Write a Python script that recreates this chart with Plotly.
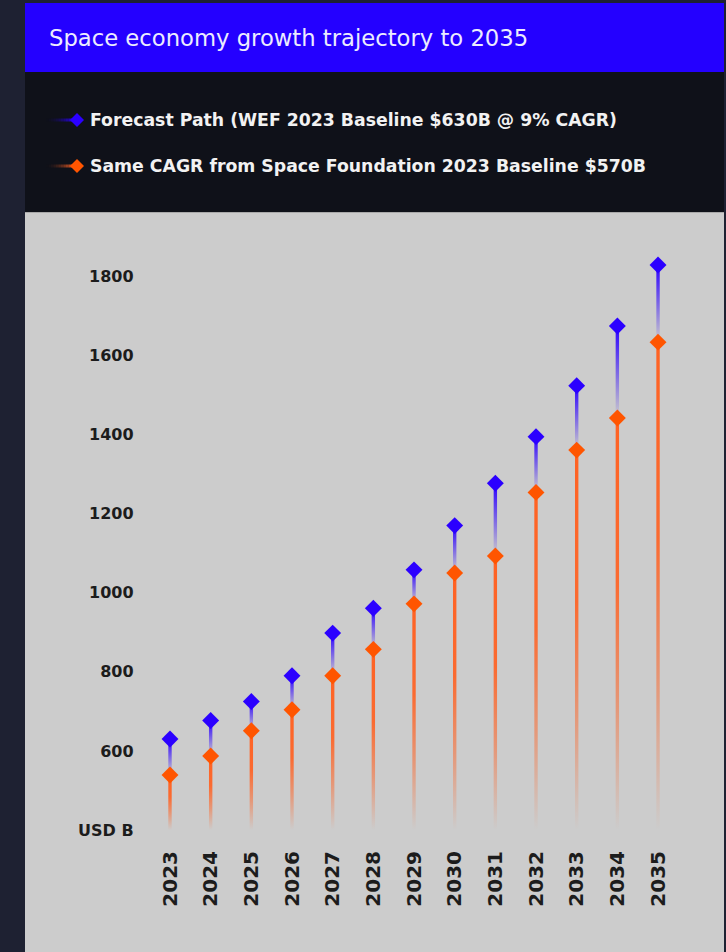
import plotly.graph_objects as go

# ---------------- data ----------------
years = [2023, 2024, 2025, 2026, 2027, 2028, 2029, 2030, 2031, 2032, 2033, 2034, 2035]
wef_path = [630, 677, 725, 790, 898, 961, 1058, 1170, 1277, 1395, 1524, 1675, 1829]
sf_path = [539, 587, 651, 704, 790, 857, 972, 1050, 1093, 1254, 1361, 1442, 1634]
series_names = [
    "Forecast Path (WEF 2023 Baseline $630B @ 9% CAGR)",
    "Same CAGR from Space Foundation 2023 Baseline $570B",
]
title_text = "Space economy growth trajectory to 2035"
y_tick_vals = [400, 600, 800, 1000, 1200, 1400, 1600, 1800]
y_tick_text = ["USD B", "600", "800", "1000", "1200", "1400", "1600", "1800"]
base_value = 400

# ---------------- styling ----------------
W, H = 726, 952
BLUE = "#2b00ff"
ORANGE = "#ff5500"
BLUE_RGB = "43,0,255"
ORANGE_RGB = "255,98,35"
DARK_PAGE = "#1e2132"
DARK_PANEL = "#0f1119"
GREY = "#cccccc"


def fx(px):
    return px / W


def fy(py):
    return 1 - py / H


X_RANGE = [2022.4, 2036.0]
Y_RANGE = [400, 1900]
PLOT_L, PLOT_R, PLOT_T, PLOT_B = 145.6, 698.7, 237, 830
px_per_year = (PLOT_R - PLOT_L) / (X_RANGE[1] - X_RANGE[0])
stem_half = 1.7 / px_per_year

fig = go.Figure()

# stems for orange series (from base up to orange diamond)
for yr, v in zip(years, sf_path):
    fig.add_trace(go.Scatter(
        x=[yr - stem_half, yr + stem_half, yr + stem_half, yr - stem_half, yr - stem_half],
        y=[base_value, base_value, v, v, base_value],
        mode="lines", line=dict(width=0, color="rgba(0,0,0,0)"),
        fill="toself",
        fillgradient=dict(
            type="vertical",
            colorscale=[
                [0, f"rgba({ORANGE_RGB},0)"],
                [0.3, f"rgba({ORANGE_RGB},0.5)"],
                [0.6, f"rgba({ORANGE_RGB},0.92)"],
                [1, f"rgba({ORANGE_RGB},1)"],
            ],
        ),
        hoverinfo="skip", showlegend=False,
    ))

# stems for blue series (from orange diamond up to blue diamond)
for yr, lo, hi in zip(years, sf_path, wef_path):
    fig.add_trace(go.Scatter(
        x=[yr - stem_half, yr + stem_half, yr + stem_half, yr - stem_half, yr - stem_half],
        y=[lo, lo, hi, hi, lo],
        mode="lines", line=dict(width=0, color="rgba(0,0,0,0)"),
        fill="toself",
        fillgradient=dict(
            type="vertical",
            colorscale=[
                [0, f"rgba({BLUE_RGB},0)"],
                [0.5, f"rgba({BLUE_RGB},0.5)"],
                [1, f"rgba({BLUE_RGB},1)"],
            ],
        ),
        hoverinfo="skip", showlegend=False,
    ))

# diamonds
fig.add_trace(go.Scatter(
    x=years, y=sf_path, mode="markers", name=series_names[1],
    marker=dict(symbol="diamond", size=13, color=ORANGE, line=dict(width=0)),
    showlegend=False,
))
fig.add_trace(go.Scatter(
    x=years, y=wef_path, mode="markers", name=series_names[0],
    marker=dict(symbol="diamond", size=13, color=BLUE, line=dict(width=0)),
    showlegend=False,
))

shapes = []
# grey panel (extends past the bottom edge so it always reaches it)
shapes.append(dict(type="rect", xref="paper", yref="paper",
                   x0=fx(25), x1=fx(724), y0=fy(1000), y1=fy(212),
                   fillcolor=GREY, line=dict(width=0), layer="below"))
shapes.append(dict(type="line", xref="paper", yref="paper",
                   x0=fx(25), x1=fx(724), y0=fy(212.5), y1=fy(212.5),
                   line=dict(color="#a9a9a9", width=1), layer="below"))
# dark legend panel
shapes.append(dict(type="rect", xref="paper", yref="paper",
                   x0=fx(25), x1=fx(724), y0=fy(212), y1=fy(72),
                   fillcolor=DARK_PANEL, line=dict(width=0), layer="below"))
# blue title bar
shapes.append(dict(type="rect", xref="paper", yref="paper",
                   x0=fx(25), x1=fx(724), y0=fy(72), y1=fy(3),
                   fillcolor="#2400ff", line=dict(width=0), layer="below"))

# legend symbols: gradient line + diamond
annotations = []
legend_rows = [(120, BLUE_RGB, BLUE, series_names[0]), (166, ORANGE_RGB, ORANGE, series_names[1])]
for py, rgb, col, name in legend_rows:
    n = 12
    x_start, x_end = 46, 76
    seg = (x_end - x_start) / n
    for i in range(n):
        a = (i + 1) / n
        shapes.append(dict(type="line", xref="paper", yref="paper",
                           x0=fx(x_start + i * seg), x1=fx(x_start + (i + 1) * seg),
                           y0=fy(py), y1=fy(py),
                           line=dict(color=f"rgba({rgb},{a * a:.3f})", width=3)))
    cx, r = 77, 7
    path = (f"M {fx(cx - r)} {fy(py)} L {fx(cx)} {fy(py - r)} "
            f"L {fx(cx + r)} {fy(py)} L {fx(cx)} {fy(py + r)} Z")
    shapes.append(dict(type="path", xref="paper", yref="paper", path=path,
                       fillcolor=col, line=dict(width=0)))
    annotations.append(dict(xref="paper", yref="paper", x=fx(88), y=fy(py),
                            xanchor="left", yanchor="middle", showarrow=False,
                            text=name,
                            font=dict(family="DejaVu Sans", size=17.3, color="#f2f2f2",
                                      weight="bold")))

annotations.append(dict(xref="paper", yref="paper", x=fx(47), y=fy(38),
                        xanchor="left", yanchor="middle", showarrow=False,
                        text=title_text,
                        font=dict(family="DejaVu Sans", size=22.7, color="#ececff")))

fig.update_layout(
    width=W, height=H,
    margin=dict(l=0, r=0, t=0, b=0, pad=0, autoexpand=False),
    paper_bgcolor=DARK_PAGE,
    plot_bgcolor="rgba(0,0,0,0)",
    shapes=shapes,
    annotations=annotations,
    showlegend=False,
    xaxis=dict(
        domain=[fx(PLOT_L), fx(PLOT_R)], range=X_RANGE, automargin=False,
        tickmode="array", tickvals=years, ticktext=[str(y) for y in years],
        tickangle=-90, showgrid=False, zeroline=False, showline=False, ticks="",
        ticklabelstandoff=16,
        tickfont=dict(family="DejaVu Sans", size=20, color="#1c1c1c", weight="bold"),
    ),
    yaxis=dict(
        domain=[fy(PLOT_B), fy(PLOT_T)], range=Y_RANGE, automargin=False,
        tickmode="array", tickvals=y_tick_vals, ticktext=y_tick_text,
        showgrid=False, zeroline=False, showline=False, ticks="",
        ticklabelstandoff=11,
        tickfont=dict(family="DejaVu Sans", size=16, color="#1c1c1c", weight="bold"),
    ),
)

# let the figure fill the browser window exactly (no default body margin)
fig.write_html(
    "out.html",
    config={"displayModeBar": False},
    post_script="document.body.style.margin='0';"
                "document.body.style.background='#1e2132';"
                "document.documentElement.style.overflow='hidden';",
)
